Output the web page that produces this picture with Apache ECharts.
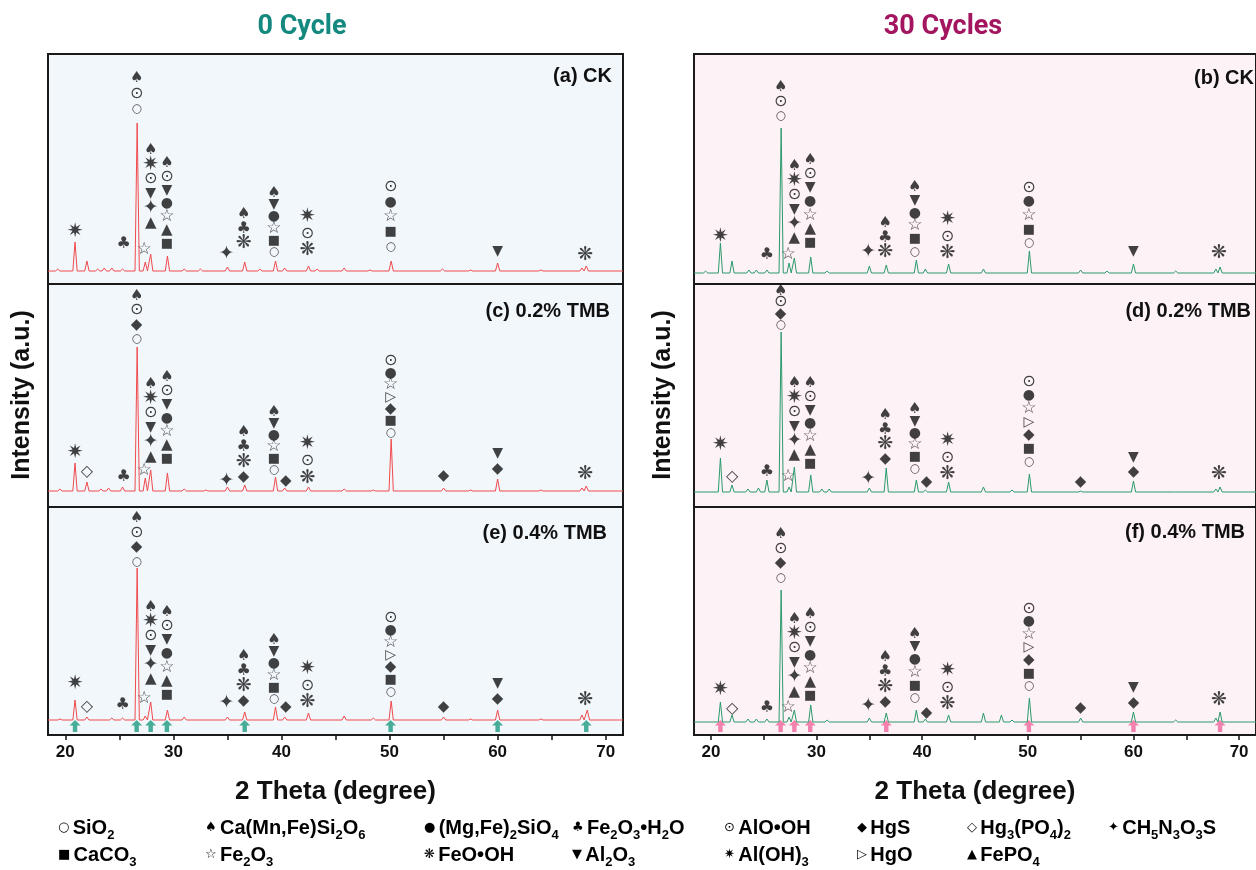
<!DOCTYPE html>
<html>
<head>
<meta charset="utf-8">
<script src="https://cdn.jsdelivr.net/npm/echarts@6/dist/echarts.min.js"></script>
<style>
html, body { margin: 0; background: #fff; }
#chart { width: 1256px; height: 870px; }
</style>
</head>
<body>
<div id="chart"></div>
<script>
// 2theta range and ticks
const xMin = 18.4, xMax = 71.6;
const tickValues = [20, 25, 30, 35, 40, 45, 50, 55, 60, 65, 70];
const labelValues = [20, 30, 40, 50, 60, 70];

// peaks: [2theta, intensity] (a.u.), baseline level per panel
const peaksA = [[19.3,15],[20.9,42],[22.0,23],[23.0,15],[23.6,16],[24.3,16],[25.3,15],[26.65,161],[27.4,22],[27.9,30],[29.45,28],[31.0,15],[32.5,15],[35.0,17],[36.6,22],[38.0,15],[39.45,23],[40.3,16],[42.5,18],[43.3,15],[45.8,16],[48.2,14],[50.15,23],[54.9,15],[57.5,14],[60.0,21],[64.0,14],[67.8,16],[68.2,18]];
const peaksC = [[19.5,18],[20.9,44],[22.0,25],[23.3,18],[24.0,19],[25.3,20],[26.65,160],[27.4,29],[27.9,37],[29.45,34],[31.0,18],[33.0,17],[35.0,20],[36.6,22],[39.45,30],[40.3,19],[42.5,20],[45.8,18],[48.5,17],[50.15,68],[55.0,19],[57.5,17],[60.0,28],[64.0,17],[67.8,19],[68.2,21]];
const peaksE = [[19.5,16],[20.9,35],[22.0,18],[24.3,17],[25.3,17],[26.65,167],[27.4,19],[27.9,33],[29.45,25],[31.0,18],[35.0,18],[36.6,23],[39.45,28],[40.3,18],[42.5,22],[45.8,19],[48.5,17],[50.15,34],[55.0,18],[57.5,16],[60.0,25],[64.0,16],[67.8,20],[68.3,25]];
const peaksB = [[19.5,13],[20.9,41],[22.0,23],[23.6,14],[24.3,14],[25.3,14],[26.65,156],[27.4,21],[27.9,26],[29.45,27],[31.0,13],[35.0,18],[36.6,19],[39.45,24],[40.3,15],[42.5,20],[45.8,15],[50.15,33],[55.0,14],[57.5,13],[60.0,20],[64.0,13],[67.8,15],[68.2,17]];
const peaksD = [[20.9,49],[22.0,22],[23.5,18],[24.5,19],[25.3,27],[26.65,175],[27.4,20],[27.9,40],[29.45,32],[30.5,18],[31.2,18],[35.0,19],[36.6,39],[39.45,27],[40.3,17],[42.5,25],[45.8,20],[48.5,17],[50.15,33],[55.0,16],[57.5,15],[60.0,26],[64.0,15],[67.8,18],[68.2,20]];
const peaksF = [[20.9,33],[22.0,20],[23.5,16],[24.3,16],[25.3,16],[26.65,145],[27.4,18],[27.9,25],[29.45,30],[31.0,15],[35.0,17],[36.6,22],[39.45,25],[40.3,16],[42.5,20],[45.8,22],[47.5,20],[48.5,15],[50.15,37],[55.0,17],[60.0,23],[64.0,15],[67.8,17],[68.2,23]];
const baseLevels = [13, 16, 15, 11, 15, 13];

// phase marks: [2theta, glyphs top->bottom, level of top glyph, level of bottom glyph]
const marksA = [[20.9,'✷',52,52],[25.4,'♣',40,40],[26.6,'♠⊙○',206,175],[27.3,'☆',34,34],[27.9,'♠✷⊙▼✦▲',134,61],[29.4,'♠⊙▼●☆▲■',121,40],[34.9,'✦',30,30],[36.5,'♠♣❋',70,41],[39.3,'♠▼●☆■○',91,32],[42.4,'✷⊙❋',67,34],[50.1,'⊙●☆■○',97,37],[60.0,'▼',33,33],[68.1,'❋',29,29]];
const marksC = [[20.9,'✷',54,54],[22.0,'◇',35,35],[25.4,'♣',30,30],[26.6,'♠⊙◆○',211,168],[27.3,'☆',36,36],[27.9,'♠✷⊙▼✦▲',123,50],[29.4,'♠⊙▼●☆▲■',130,48],[34.9,'✦',26,26],[36.5,'♠♣❋◆',75,30],[39.3,'♠▼●☆■○',95,37],[40.4,'◆',26,26],[42.4,'✷⊙❋',63,29],[50.1,'⊙●☆▷◆■○',146,74],[55.0,'◆',31,31],[60.0,'▼◆',54,38],[68.1,'❋',33,33]];
const marksE = [[20.9,'✷',51,51],[22.0,'◇',28,28],[25.3,'♣',30,30],[26.6,'♠⊙◆○',217,173],[27.3,'☆',36,36],[27.9,'♠✷⊙▼✦▲',128,56],[29.4,'♠⊙▼●☆▲■',123,40],[34.9,'✦',32,32],[36.5,'♠♣❋◆',79,34],[39.3,'♠▼●☆■○',95,36],[40.4,'◆',28,28],[42.4,'✷⊙❋',66,33],[50.1,'⊙●☆▷◆■○',117,43],[55.0,'◆',28,28],[60.0,'▼◆',52,36],[68.1,'❋',35,35]];
const marksB = [[20.9,'✷',47,47],[25.3,'♣',29,29],[26.6,'♠⊙○',197,168],[27.3,'☆',29,29],[27.9,'♠✷⊙▼✦▲',118,46],[29.4,'♠⊙▼●☆▲■',124,41],[34.9,'✦',32,32],[36.5,'♠♣❋',61,32],[39.3,'♠▼●☆■○',97,32],[42.4,'✷⊙❋',64,31],[50.1,'⊙●☆■○',96,41],[60.0,'▼',33,33],[68.1,'❋',31,31]];
const marksD = [[20.9,'✷',62,62],[22.0,'◇',30,30],[25.3,'♣',35,35],[26.6,'♠⊙◆○',216,182],[27.3,'☆',30,30],[27.9,'♠✷⊙▼✦▲',124,52],[29.4,'♠⊙▼●☆▲■',124,43],[34.9,'✦',28,28],[36.5,'♠♣❋◆',92,48],[39.3,'♠▼●☆■○',98,38],[40.4,'◆',25,25],[42.4,'✷⊙❋',66,33],[50.1,'⊙●☆▷◆■○',125,45],[55.0,'◆',25,25],[60.0,'▼◆',50,35],[68.1,'❋',33,33]];
const marksF = [[20.9,'✷',45,45],[22.0,'◇',26,26],[25.3,'♣',27,27],[26.6,'♠⊙◆○',201,157],[27.3,'☆',27,27],[27.9,'♠✷⊙▼✦▲',116,43],[29.4,'♠⊙▼●☆▲■',121,39],[34.9,'✦',29,29],[36.5,'♠♣❋◆',78,33],[39.3,'♠▼●☆■○',101,37],[40.4,'◆',22,22],[42.4,'✷⊙❋',64,31],[50.1,'⊙●☆▷◆■○',126,49],[55.0,'◆',27,27],[60.0,'▼◆',48,32],[68.1,'❋',35,35]];

// arrows under the 0.4% TMB patterns
const arrowPeaks = [20.9, 26.6, 27.9, 29.4, 36.6, 50.1, 60.0, 68.2];

const panelLabels = ['(a) CK', '(c) 0.2% TMB', '(e) 0.4% TMB', '(b) CK', '(d) 0.2% TMB', '(f) 0.4% TMB'];

const legendRow1 = [['○','SiO_2'],['♠','Ca(Mn,Fe)Si_2O_6'],['●','(Mg,Fe)_2SiO_4'],['♣','Fe_2O_3•H_2O'],['⊙','AlO•OH'],['◆','HgS'],['◇','Hg_3(PO_4)_2'],['✦','CH_5N_3O_3S']];
const legendRow2 = [['■','CaCO_3'],['☆','Fe_2O_3'],['❋','FeO•OH'],['▼','Al_2O_3'],['✷','Al(OH)_3'],['▷','HgO'],['▲','FePO_4']];

// ---- layout / style ----
const RED = '#f04a4c', GREEN = '#2a9a6c';
const glyphSize = {'○':12,'⊙':16,'♠':15,'●':14,'♣':16,'◆':15,'◇':16,'✦':19,'■':13,'☆':17,'❋':19,'▼':14,'✷':20,'▷':14,'▲':15};
const grids = [
    {left: 48, top: 54, width: 575, height: 230},
    {left: 48, top: 284, width: 575, height: 223},
    {left: 48, top: 507, width: 575, height: 228},
    {left: 694, top: 54, width: 569, height: 230},
    {left: 694, top: 284, width: 569, height: 223},
    {left: 694, top: 507, width: 569, height: 228}
];
const allPeaks = [peaksA, peaksC, peaksE, peaksB, peaksD, peaksF];
const allMarks = [marksA, marksC, marksE, marksB, marksD, marksF];
const halfWidth = 0.2;

function profile(peaks, base) {
    const pts = [[xMin, base]];
    peaks.forEach(([p, h]) => {
        pts.push([p - halfWidth, base], [p, h], [p + halfWidth, base]);
    });
    pts.push([xMax, base]);
    return pts;
}

function markPoints(marks) {
    const out = [];
    marks.forEach(([x, glyphs, top, bottom]) => {
        const g = Array.from(glyphs);
        const step = g.length > 1 ? (top - bottom) / (g.length - 1) : 0;
        g.forEach((c, i) => {
            out.push({
                value: [x, top - i * step],
                label: {formatter: c, fontSize: glyphSize[c] || 14}
            });
        });
    });
    return out;
}

const series = [];
const xAxes = [];
const yAxes = [];

grids.forEach((g, i) => {
    const bottomPanel = i === 2 || i === 5;
    const color = i < 3 ? RED : GREEN;
    g.show = true;
    g.borderColor = '#1a1a1a';
    g.borderWidth = 2;
    g.backgroundColor = i < 3 ? '#f2f7fc' : '#fdf2f6';

    xAxes.push({
        type: 'value', gridIndex: i, min: xMin, max: xMax,
        show: true,
        name: bottomPanel ? '2 Theta (degree)' : '',
        nameLocation: 'middle', nameGap: 44,
        nameTextStyle: {fontFamily: 'Liberation Sans', fontWeight: 'bold', fontSize: 26, color: '#111'},
        axisLine: {show: false},
        splitLine: {show: false},
        axisTick: {show: bottomPanel, inside: false, length: 5, lineStyle: {color: '#111', width: 1.5}, customValues: tickValues},
        axisLabel: {show: bottomPanel, customValues: labelValues, margin: 9, fontFamily: 'Liberation Sans', fontWeight: 'bold', fontSize: 17, color: '#111'}
    });
    yAxes.push({type: 'value', gridIndex: i, min: 0, max: g.height, show: false});

    series.push({
        type: 'line', xAxisIndex: i, yAxisIndex: i,
        data: profile(allPeaks[i], baseLevels[i]),
        showSymbol: false, silent: true,
        lineStyle: {color: color, width: 1}
    });
    series.push({
        type: 'scatter', xAxisIndex: i, yAxisIndex: i,
        data: markPoints(allMarks[i]),
        symbolSize: 0.1, silent: true,
        itemStyle: {color: 'transparent'},
        label: {show: true, position: 'inside', color: '#111', fontFamily: 'DejaVu Sans'}
    });
    if (bottomPanel) {
        series.push({
            type: 'scatter', xAxisIndex: i, yAxisIndex: i,
            data: arrowPeaks.map(p => [p, 9]),
            symbol: 'path://M5,0L10,5L7,5L7,11L3,11L3,5L0,5Z',
            symbolSize: [11, 12], silent: true,
            itemStyle: {color: i < 3 ? '#1b9a7e' : '#f0649c'}
        });
    }
});

// legend text with subscripts
const rich = {
    g: {fontFamily: 'DejaVu Sans', fontSize: 13, color: '#111', lineHeight: 28, verticalAlign: 'middle'},
    t: {fontFamily: 'Liberation Sans', fontWeight: 'bold', fontSize: 20, color: '#111', lineHeight: 28, verticalAlign: 'middle'},
    s: {fontFamily: 'Liberation Sans', fontWeight: 'bold', fontSize: 13, color: '#111', lineHeight: 14, verticalAlign: 'bottom'}
};
function richText(glyph, formula) {
    return '{g|' + glyph + '} {t|' + formula.replace(/_(\d)/g, '}{s|$1}{t|') + '}';
}
const legendX = [58, 205, 424, 572, 724, 857, 967, 1108];
const graphics = [];
[legendRow1, legendRow2].forEach((row, r) => {
    row.forEach(([glyph, formula], k) => {
        graphics.push({
            type: 'text', x: legendX[k], y: r === 0 ? 828 : 855,
            style: {text: richText(glyph, formula), rich: rich, verticalAlign: 'middle', align: 'left'}
        });
    });
});

const labelPos = [[612, 76], [610, 311], [607, 533], [1254, 78], [1251, 311], [1245, 532]];
panelLabels.forEach((t, i) => {
    graphics.push({
        type: 'text', x: labelPos[i][0], y: labelPos[i][1],
        style: {text: t, align: 'right', verticalAlign: 'middle', fontFamily: 'Liberation Sans', fontWeight: 'bold', fontSize: 20, fill: '#111'}
    });
});

[22, 663].forEach(x => {
    graphics.push({
        type: 'text', x: x, y: 395, rotation: Math.PI / 2,
        style: {text: 'Intensity (a.u.)', align: 'center', verticalAlign: 'middle', fontFamily: 'Liberation Sans', fontWeight: 'bold', fontSize: 25, fill: '#111'}
    });
});

graphics.push({
    type: 'text', x: 302, y: 27,
    style: {text: '0 Cycle', align: 'center', verticalAlign: 'middle', fontFamily: 'Roboto', fontWeight: 'bold', fontSize: 27, fill: '#13897f'}
});
graphics.push({
    type: 'text', x: 943, y: 27,
    style: {text: '30 Cycles', align: 'center', verticalAlign: 'middle', fontFamily: 'Roboto', fontWeight: 'bold', fontSize: 27, fill: '#a3165f'}
});

const chart = echarts.init(document.getElementById('chart'));
chart.setOption({
    animation: false,
    backgroundColor: '#ffffff',
    grid: grids,
    xAxis: xAxes,
    yAxis: yAxes,
    series: series,
    graphic: graphics
});
</script>
</body>
</html>
